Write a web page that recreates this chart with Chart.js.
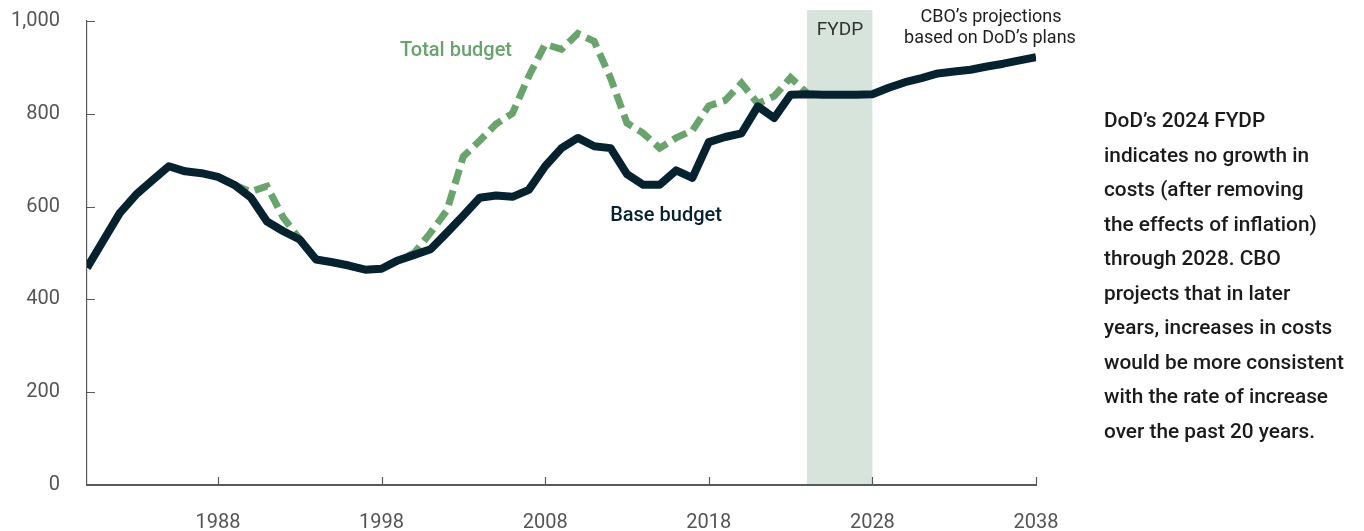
<!DOCTYPE html>
<html lang="en">
<head>
<meta charset="utf-8">
<title>DoD costs: base and total budget</title>
<script src="https://cdn.jsdelivr.net/npm/chart.js@4/dist/chart.umd.min.js"></script>
<style>
  html, body { margin: 0; padding: 0; background: #fff; }
  #wrap { position: relative; width: 1364px; height: 531px; }
  #note {
    position: absolute; left: 1104px; top: 103px; width: 260px;
    font: 500 20.8px Roboto, "Noto Sans", sans-serif; line-height: 34.5px; color: #1b1b1b;
    white-space: pre;
  }
</style>
</head>
<body>
<div id="wrap">
  <canvas id="chart"></canvas>
  <div id="note"></div>
</div>
<script>
/* ── valores ── */
var baseYears = [];
for (var yr = 1980; yr <= 2038; yr++) baseYears.push(yr);
var baseBudget = [
  468, 527, 586, 626, 657, 687, 676, 672, 664, 647,   // 1980-89
  620, 568, 547, 529, 486, 480, 473, 464, 466, 484,   // 1990-99
  496, 508, 544, 581, 619, 624, 621, 636, 687, 726,   // 2000-09
  748, 730, 726, 670, 647, 647, 678, 662, 739, 750,   // 2010-19
  758, 816, 791, 841, 842, 841, 841, 841, 842, 856,   // 2020-29
  868, 877, 887, 891, 895, 902, 908, 915, 922         // 2030-38
];
var totalYears = [];
for (var ty = 1989; ty <= 2024; ty++) totalYears.push(ty);
var totalBudget = [
  647,                                                // 1989
  632, 644, 576, 530, 486, 480, 473, 464, 466, 484,   // 1990-99
  500, 544, 592, 708, 742, 778, 801, 881, 950, 939,   // 2000-09
  973, 956, 877, 780, 758, 726, 748, 764, 817, 829,   // 2010-19
  866, 822, 838, 878, 845                             // 2020-24
];
var xTicks = [1988, 1998, 2008, 2018, 2028, 2038];
var yTicks = [0, 200, 400, 600, 800, 1000];
var fydpSpan = [2024, 2028];
var noteLines = [
  'DoD\u2019s 2024 FYDP',
  'indicates no growth in',
  'costs (after removing',
  'the effects of inflation)',
  'through 2028. CBO',
  'projects that in later',
  'years, increases in costs',
  'would be more consistent',
  'with the rate of increase',
  'over the past 20 years.'
];

(function () {
  'use strict';
  var $ = function (id) { return document.getElementById(id); };
  var FONT = 'Roboto, "Noto Sans", sans-serif';
  var C = { base: '#07222f', total: '#69a46c', band: '#d6e4dc', axis: '#5a5a5a', ink: '#555', text: '#1f1f1f' };

  $('note').textContent = noteLines.join('\n');

  var pts = function (xs, ys) { return xs.map(function (x, i) { return { x: x, y: ys[i] }; }); };

  /* faixa FYDP — atrás de tudo, inclusive dos eixos */
  var bandPlugin = {
    id: 'fydpBand',
    beforeDraw: function (chart) {
      var x = chart.scales.x, a = chart.chartArea, ctx = chart.ctx;
      var x0 = x.getPixelForValue(fydpSpan[0]), x1 = x.getPixelForValue(fydpSpan[1]);
      ctx.save();
      ctx.fillStyle = C.band;
      ctx.fillRect(x0, a.top - 11, x1 - x0, a.bottom - a.top + 11);
      ctx.restore();
    }
  };

  /* ticks pra dentro (a lib só desenha pra fora) */
  var innerTicks = {
    id: 'innerTicks',
    beforeDatasetsDraw: function (chart) {
      var x = chart.scales.x, y = chart.scales.y, a = chart.chartArea, ctx = chart.ctx;
      ctx.save();
      ctx.strokeStyle = C.axis; ctx.lineWidth = 1.2;
      ctx.beginPath();
      xTicks.forEach(function (v) { var px = Math.round(x.getPixelForValue(v)) + 0.5; ctx.moveTo(px, a.bottom); ctx.lineTo(px, a.bottom - 8); });
      yTicks.forEach(function (v) { var py = Math.round(y.getPixelForValue(v)) + 0.5; ctx.moveTo(a.left, py); ctx.lineTo(a.left + 8, py); });
      ctx.stroke();
      ctx.restore();
    }
  };

  /* rótulos dentro do gráfico */
  var labels = {
    id: 'labels',
    afterDraw: function (chart) {
      var ctx = chart.ctx;
      var put = function (txt, x, y, color, weight, size) {
        ctx.fillStyle = color; ctx.font = weight + ' ' + size + 'px ' + FONT;
        ctx.fillText(txt, x, y);
      };
      ctx.save();
      ctx.textAlign = 'center'; ctx.textBaseline = 'middle';
      put('Total budget', 456, 51, C.total, 500, 20);
      put('Base budget', 666, 216, C.base, 500, 20);
      put('FYDP', 840, 30, '#333', 400, 19);
      put('CBO\u2019s projections', 991, 17, C.text, 400, 18);
      put('based on DoD\u2019s plans', 990, 38, C.text, 400, 18);
      ctx.restore();
    }
  };

  new Chart($('chart'), {
    type: 'line',
    data: {
      datasets: [
        { label: 'Base budget', data: pts(baseYears, baseBudget), borderColor: C.base, borderWidth: 8,
          pointRadius: 0, tension: 0, borderJoinStyle: 'round', borderCapStyle: 'butt' },
        { label: 'Total budget', data: pts(totalYears, totalBudget), borderColor: C.total, borderWidth: 7,
          borderDash: [15, 7], pointRadius: 0, tension: 0, borderCapStyle: 'butt' }
      ]
    },
    options: {
      responsive: true, maintainAspectRatio: false, animation: false,
      layout: { padding: { top: 21, right: 328, bottom: 0, left: 0 } },
      plugins: { legend: { display: false }, tooltip: { enabled: false } },
      scales: {
        x: {
          type: 'linear', min: 1980, max: 2038,
          afterBuildTicks: function (s) { s.ticks = xTicks.map(function (v) { return { value: v }; }); },
          afterFit: function (s) { s.height = 46; s.paddingLeft = 0; s.paddingRight = 0; },
          grid: { display: false, drawTicks: false },
          border: { display: true, color: C.axis, width: 2 },
          ticks: { autoSkip: false, maxRotation: 0, padding: 26, color: C.ink, font: { family: FONT, size: 20 },
            callback: function (v) { return String(v); } }
        },
        y: {
          min: 0, max: 1000,
          afterBuildTicks: function (s) { s.ticks = yTicks.map(function (v) { return { value: v }; }); },
          // o padding do rótulo não deve empurrar a área do gráfico
          afterFit: function (s) { s.width = 87; s.paddingTop = 0; s.paddingBottom = 0; },
          grid: { display: false, drawTicks: false },
          border: { display: true, color: C.axis, width: 1.2 },
          ticks: { padding: 27, color: C.ink, font: { family: FONT, size: 20 },
            callback: function (v) { return v.toLocaleString('en-US'); } }
        }
      }
    },
    plugins: [bandPlugin, innerTicks, labels]
  });
})();
</script>
</body>
</html>
